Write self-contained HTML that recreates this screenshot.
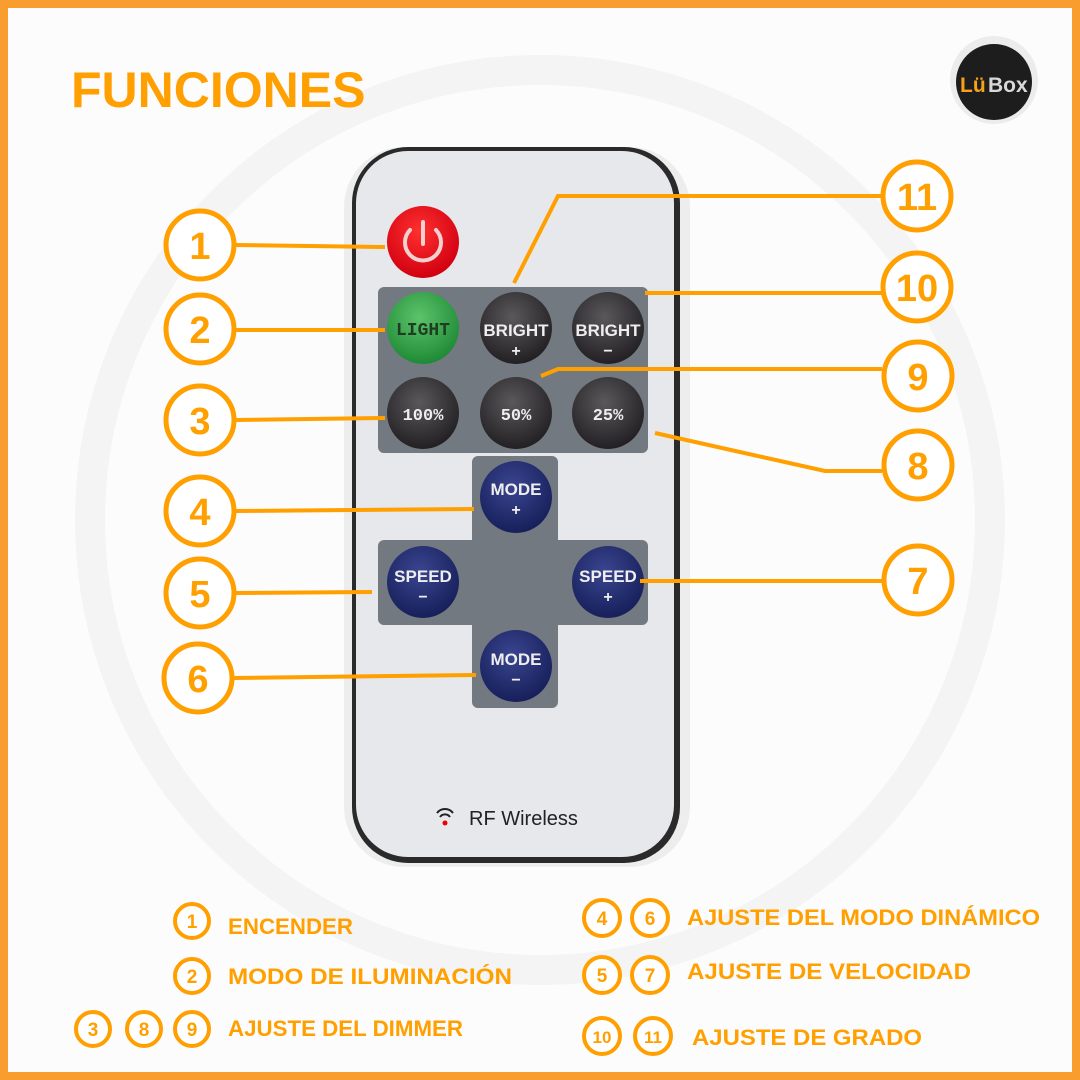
<!DOCTYPE html>
<html><head><meta charset="utf-8"><style>
html,body{margin:0;padding:0;width:1080px;height:1080px;overflow:hidden;background:#fff}
svg{display:block}
</style></head><body>
<svg width="1080" height="1080" viewBox="0 0 1080 1080" xmlns="http://www.w3.org/2000/svg" font-family="Liberation Sans, sans-serif">
<defs>
<radialGradient id="dk" cx="45%" cy="35%" r="65%"><stop offset="0" stop-color="#5a585a"/><stop offset="1" stop-color="#222022"/></radialGradient>
<radialGradient id="bl" cx="45%" cy="35%" r="65%"><stop offset="0" stop-color="#3a4590"/><stop offset="1" stop-color="#17205a"/></radialGradient>
<radialGradient id="gr" cx="45%" cy="35%" r="65%"><stop offset="0" stop-color="#5cc46a"/><stop offset="1" stop-color="#1f8a36"/></radialGradient>
<radialGradient id="rd" cx="45%" cy="35%" r="65%"><stop offset="0" stop-color="#ff3030"/><stop offset="1" stop-color="#d10010"/></radialGradient>
</defs>
<rect x="0" y="0" width="1080" height="1080" fill="#f99d2f"/>
<rect x="8" y="8" width="1064" height="1064" fill="#fcfcfc"/>
<circle cx="540" cy="520" r="450" fill="none" stroke="#f4f4f4" stroke-width="30"/>
<text x="71" y="107" font-size="50" font-weight="bold" fill="#ff9f00">FUNCIONES</text>
<!-- logo -->
<circle cx="994" cy="80" r="44" fill="#ececec"/>
<circle cx="994" cy="82" r="38" fill="#1d1d1d"/>
<text x="960" y="92" font-size="21" font-weight="bold" fill="#f7a11a">Lü</text>
<text x="988" y="92" font-size="21" font-weight="bold" fill="#d8d8d8">Box</text>
<!-- remote -->
<rect x="344" y="147" width="346" height="720" rx="60" fill="#000" opacity="0.06"/>
<rect x="352" y="147" width="328" height="716" rx="56" fill="#2a2a2a"/>
<rect x="356" y="151" width="318" height="706" rx="52" fill="#e6e8ec"/>
<rect x="378" y="287" width="270" height="166" rx="6" fill="#727980"/>
<path d="M478 456 h74 a6 6 0 0 1 6 6 v78 h84 a6 6 0 0 1 6 6 v73 a6 6 0 0 1 -6 6 h-84 v77 a6 6 0 0 1 -6 6 h-74 a6 6 0 0 1 -6 -6 v-77 h-88 a6 6 0 0 1 -6 -6 v-73 a6 6 0 0 1 6 -6 h88 v-78 a6 6 0 0 1 6 -6z" fill="#727980"/>
<circle cx="423" cy="242" r="36" fill="url(#rd)"/>
<path d="M410 230 a18 18 0 1 0 26 0" fill="none" stroke="#f2d0d0" stroke-width="4" stroke-linecap="round"/>
<line x1="423" y1="222" x2="423" y2="244" stroke="#f2d0d0" stroke-width="4" stroke-linecap="round"/>
<g font-weight="bold" text-anchor="middle" fill="#eee">
<circle cx="423" cy="328" r="36" fill="url(#gr)"/><text x="423" y="335" font-size="18" fill="#1f3d22" font-family="Liberation Mono, monospace">LIGHT</text>
<circle cx="516" cy="328" r="36" fill="url(#dk)"/><text x="516" y="336" font-size="17">BRIGHT</text><text x="516" y="356" font-size="16">+</text>
<circle cx="608" cy="328" r="36" fill="url(#dk)"/><text x="608" y="336" font-size="17">BRIGHT</text><text x="608" y="356" font-size="16">−</text>
<circle cx="423" cy="413" r="36" fill="url(#dk)"/><text x="423" y="420" font-size="17" font-family="Liberation Mono, monospace">100%</text>
<circle cx="516" cy="413" r="36" fill="url(#dk)"/><text x="516" y="420" font-size="17" font-family="Liberation Mono, monospace">50%</text>
<circle cx="608" cy="413" r="36" fill="url(#dk)"/><text x="608" y="420" font-size="17" font-family="Liberation Mono, monospace">25%</text>
<circle cx="516" cy="497" r="36" fill="url(#bl)"/><text x="516" y="495" font-size="17">MODE</text><text x="516" y="515" font-size="16">+</text>
<circle cx="423" cy="582" r="36" fill="url(#bl)"/><text x="423" y="582" font-size="17">SPEED</text><text x="423" y="602" font-size="16">−</text>
<circle cx="608" cy="582" r="36" fill="url(#bl)"/><text x="608" y="582" font-size="17">SPEED</text><text x="608" y="602" font-size="16">+</text>
<circle cx="516" cy="666" r="36" fill="url(#bl)"/><text x="516" y="665" font-size="17">MODE</text><text x="516" y="685" font-size="16">−</text>
</g>
<path d="M437 813 a10 10 0 0 1 16 0 M440 817 a6 6 0 0 1 10 0" fill="none" stroke="#222" stroke-width="2"/>
<circle cx="445" cy="823" r="2.5" fill="#e00"/>
<text x="469" y="825" font-size="20" fill="#222">RF Wireless</text>
<!-- connectors -->
<g stroke="#ff9f00" stroke-width="4" fill="none">
<line x1="235" y1="245" x2="385" y2="247"/>
<line x1="235" y1="330" x2="385" y2="330"/>
<line x1="235" y1="420" x2="385" y2="418"/>
<line x1="235" y1="511" x2="474" y2="509"/>
<line x1="235" y1="593" x2="372" y2="592"/>
<line x1="233" y1="678" x2="476" y2="675"/>
<line x1="640" y1="581" x2="882" y2="581"/>
<polyline points="655,433 825,471 882,471"/>
<polyline points="541,376 558,369 882,369"/>
<line x1="645" y1="293" x2="882" y2="293"/>
<polyline points="514,283 558,196 882,196"/>
</g>
<g fill="#fff" stroke="#ff9f00" stroke-width="5">
<circle cx="200" cy="245" r="34"/><circle cx="200" cy="329" r="34"/><circle cx="200" cy="420" r="34"/>
<circle cx="200" cy="511" r="34"/><circle cx="200" cy="593" r="34"/><circle cx="198" cy="678" r="34"/>
<circle cx="917" cy="196" r="34"/><circle cx="917" cy="287" r="34"/><circle cx="918" cy="376" r="34"/>
<circle cx="918" cy="465" r="34"/><circle cx="918" cy="580" r="34"/>
</g>
<g font-size="38" font-weight="bold" fill="#ff9f00" text-anchor="middle">
<text x="200" y="259">1</text><text x="200" y="343">2</text><text x="200" y="434">3</text>
<text x="200" y="525">4</text><text x="200" y="607">5</text><text x="198" y="692">6</text>
<text x="917" y="210">11</text><text x="917" y="301">10</text><text x="918" y="390">9</text>
<text x="918" y="479">8</text><text x="918" y="594">7</text>
</g>
<!-- legend -->
<g fill="#fff" stroke="#ff9f00" stroke-width="4">
<circle cx="192" cy="921" r="17"/><circle cx="192" cy="976" r="17"/>
<circle cx="93" cy="1029" r="17"/><circle cx="144" cy="1029" r="17"/><circle cx="192" cy="1029" r="17"/>
<circle cx="602" cy="918" r="18"/><circle cx="650" cy="918" r="18"/>
<circle cx="602" cy="975" r="18"/><circle cx="650" cy="975" r="18"/>
<circle cx="602" cy="1036" r="18"/><circle cx="653" cy="1036" r="18"/>
</g>
<g font-size="19" font-weight="bold" fill="#ff9f00" text-anchor="middle">
<text x="192" y="928">1</text><text x="192" y="983">2</text>
<text x="93" y="1036">3</text><text x="144" y="1036">8</text><text x="192" y="1036">9</text>
<text x="602" y="925">4</text><text x="650" y="925">6</text>
<text x="602" y="982">5</text><text x="650" y="982">7</text>
<text x="602" y="1043" font-size="17">10</text><text x="653" y="1043" font-size="17">11</text>
</g>
<g font-size="22" font-weight="bold" fill="#ff9f00">
<text x="228" y="934" textLength="125" lengthAdjust="spacingAndGlyphs">ENCENDER</text>
<text x="228" y="984" textLength="284" lengthAdjust="spacingAndGlyphs">MODO DE ILUMINACIÓN</text>
<text x="228" y="1036" textLength="235" lengthAdjust="spacingAndGlyphs">AJUSTE DEL DIMMER</text>
<text x="687" y="925" textLength="353" lengthAdjust="spacingAndGlyphs">AJUSTE DEL MODO DINÁMICO</text>
<text x="687" y="979" textLength="284" lengthAdjust="spacingAndGlyphs">AJUSTE DE VELOCIDAD</text>
<text x="692" y="1045" textLength="230" lengthAdjust="spacingAndGlyphs">AJUSTE DE GRADO</text>
</g>
</svg>
</body></html>
